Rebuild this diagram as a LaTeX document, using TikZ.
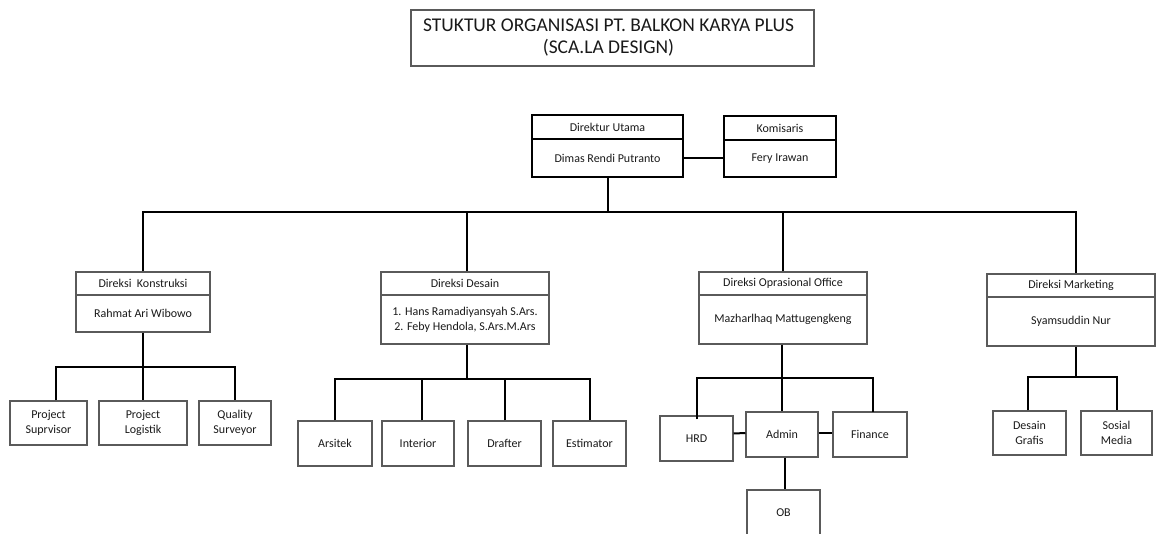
\documentclass[tikz,border=0pt]{standalone}
\usepackage{fontspec}
\setmainfont{Carlito}
\usepackage{tikz}

\definecolor{boxgray}{RGB}{90,90,90}
\definecolor{inkblack}{RGB}{25,25,25}

\tikzset{
  box/.style={draw=boxgray, line width=0.8pt, inner sep=0pt, align=center, text=inkblack,
    font=\fontsize{9}{11.25}\selectfont},
  conn/.style={line width=1.5pt, black},
}

\begin{document}
\begin{tikzpicture}[x=0.75pt,y=0.75pt,yscale=-1,xscale=1]
    \useasboundingbox (0,0) rectangle (1158,533);

    %Shape: Rectangle [title]
    \node [box, minimum width=302.25pt, minimum height=42pt, font=\fontsize{14.6}{16.5}\selectfont] (title) at (612.5,38) {\hspace*{-6pt}STUKTUR ORGANISASI PT. BALKON KARYA PLUS\\\hspace*{-6pt}(SCA.LA DESIGN)};

    %Shape: Rectangle [direktur utama]
    \node [box, draw=black, minimum width=113.25pt, minimum height=18pt] (dirutHead) at (607.5,127) {Direktur Utama};
    \node [box, draw=black, minimum width=113.25pt, minimum height=28.5pt] (dirut) at (607.5,158) {Dimas Rendi Putranto};
    %Shape: Rectangle [komisaris]
    \node [box, draw=black, minimum width=84pt, minimum height=18pt] (komHead) at (780,128) {Komisaris};
    \node [box, draw=black, minimum width=84pt, minimum height=27.75pt] (kom) at (780,158.5) {Fery Irawan};

    %Shape: Rectangle [direksi]
    \node [box, minimum width=100.5pt, minimum height=17.25pt] (konsHead) at (143,283.5) {Direksi\ \ Konstruksi};
    \node [box, minimum width=100.5pt, minimum height=27.75pt] (kons) at (143,313.5) {Rahmat Ari Wibowo};
    \node [box, minimum width=126pt, minimum height=17.25pt] (desHead) at (465,283.5) {Direksi Desain};
    \node [box, minimum width=126pt, minimum height=36.75pt] (des) at (465,319.5) {1. Hans Ramadiyansyah S.Ars.\\2. Feby Hendola, S.Ars.M.Ars};
    \node [box, minimum width=126pt, minimum height=17.25pt] (opsHead) at (783,283.5) {Direksi Oprasional Office};
    \node [box, minimum width=126pt, minimum height=36.75pt] (ops) at (783,319.5) {Mazharlhaq Mattugengkeng};
    \node [box, minimum width=126pt, minimum height=17.25pt] (markHead) at (1071,285.5) {Direksi Marketing};
    \node [box, minimum width=126pt, minimum height=36.75pt] (mark) at (1071,321.5) {Syamsuddin Nur};

    %Shape: Rectangle [konstruksi staff]
    \node [box, minimum width=57.75pt, minimum height=33pt] (supr) at (48.5,423) {Project\\Suprvisor};
    \node [box, minimum width=66pt, minimum height=33pt] (logi) at (143,423) {Project\\Logistik};
    \node [box, minimum width=54pt, minimum height=33pt] (qual) at (235,423) {Quality\\Surveyor};

    %Shape: Rectangle [desain staff]
    \node [box, minimum width=55.5pt, minimum height=33.75pt] (arsi) at (335,443.5) {Arsitek};
    \node [box, minimum width=54pt, minimum height=33.75pt] (inte) at (418,443.5) {Interior};
    \node [box, minimum width=54.75pt, minimum height=33.75pt] (draf) at (504.5,443.5) {Drafter};
    \node [box, minimum width=54.75pt, minimum height=33.75pt] (esti) at (589.5,443.5) {Estimator};

    %Shape: Rectangle [office staff]
    \node [box, minimum width=54.75pt, minimum height=33.75pt] (hrd) at (696.5,438.5) {HRD};
    \node [box, minimum width=54pt, minimum height=33.75pt] (admin) at (782,434.5) {Admin};
    \node [box, minimum width=55.5pt, minimum height=33.75pt] (fin) at (870,434.5) {Finance};
    \node [box, minimum width=54.75pt, minimum height=34.5pt] (ob) at (783.5,513) {OB};

    %Shape: Rectangle [marketing staff]
    \node [box, minimum width=54.75pt, minimum height=33pt] (desg) at (1029.5,433) {Desain\\Grafis};
    \node [box, minimum width=53.25pt, minimum height=33pt] (sosm) at (1116.5,433) {Sosial\\Media};

    %Straight Lines [top]
    \coordinate (mainbus) at (607.5,212);
    \draw [conn] (dirut.east) -- (dirut.east -| kom.west);
    \draw [conn] (dirut.south) -- (mainbus);
    \draw [conn] (konsHead.north) |- (mainbus) -| ([xshift=3.75pt]markHead.north);
    \draw [conn] ([xshift=1.5pt]desHead.north) -- ([xshift=1.5pt]desHead.north |- mainbus);
    \draw [conn] (opsHead.north) -- (opsHead.north |- mainbus);

    %Straight Lines [konstruksi]
    \coordinate (konsbus) at (143,367);
    \draw [conn] (kons.south) -- (logi.north);
    \draw [conn] ([xshift=5.5pt]supr.north) |- (konsbus) -| (qual.north);

    %Straight Lines [desain]
    \coordinate (desbus) at (467,379);
    \draw [conn] ([xshift=1.5pt]des.south) -- (desbus);
    \draw [conn] (arsi.north) |- (desbus) -| (esti.north);
    \draw [conn] ([xshift=3pt]inte.north) -- ([xshift=3pt]inte.north |- desbus);
    \draw [conn] (draf.north) -- (draf.north |- desbus);

    %Straight Lines [office]
    \coordinate (opsbus) at (782,378);
    \draw [conn] (ops.south -| admin.north) -- (admin.north);
    \draw [conn] ([yshift=3pt]hrd.north) |- (opsbus) -| ([xshift=2.25pt,yshift=0.75pt]fin.north);
    \draw [conn] (hrd.east) ++(0,-3.75pt) -- (admin.west |- 0,433);
    \draw [conn] (admin.east |- 0,433) -- (fin.west |- 0,433);
    \draw [conn] ([xshift=2.25pt]admin.south) -- ([xshift=2.25pt]admin.south |- ob.north);

    %Straight Lines [marketing]
    \coordinate (markbus) at (1076,377);
    \draw [conn] ([xshift=3.75pt]mark.south) -- (markbus);
    \draw [conn] ([xshift=-1.5pt]desg.north) |- (markbus) -| (sosm.north);
\end{tikzpicture}
\end{document}
